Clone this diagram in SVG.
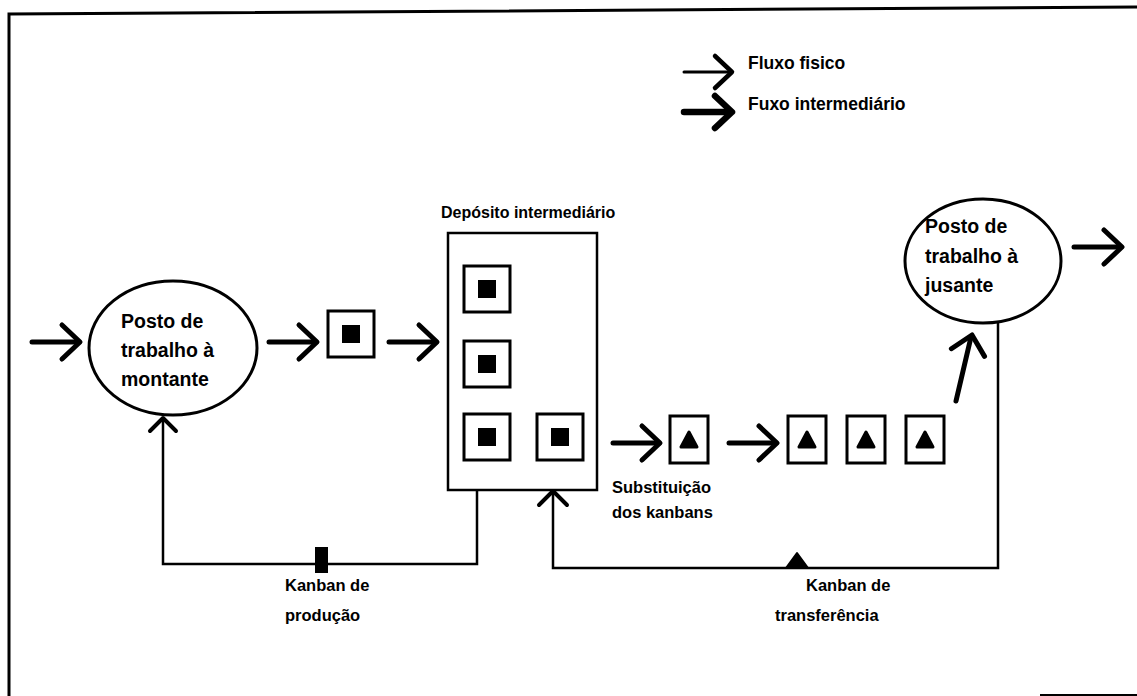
<svg xmlns="http://www.w3.org/2000/svg" width="1137" height="696" viewBox="0 0 1137 696">
  <style>
    .txt { font-family: "Liberation Sans", Arial, sans-serif; font-weight: bold; fill: #000; }
    .big { font-size: 19.5px; }
    .lbl { font-size: 16.5px; }
    .leg { font-size: 17.5px; }
    .shaft { stroke: #000; stroke-width: 5; stroke-linecap: round; fill: none; }
    .line { stroke: #000; stroke-width: 2.5; fill: none; stroke-linejoin: miter; }
    .box { fill: #fff; stroke: #000; stroke-width: 3; }
    .station { fill: #fff; stroke: #000; stroke-width: 3; }
  </style>
  <defs>
    <!-- open V arrowhead, tip at origin pointing along +x -->
    <path id="head" d="M-18,-17 L0,0 L-18,17" fill="none" stroke="#000" stroke-width="5" stroke-linecap="round" stroke-linejoin="round"/>
    <path id="headThin" d="M-17,-16 L0,0 L-17,16" fill="none" stroke="#000" stroke-width="4.5" stroke-linecap="round" stroke-linejoin="round"/>
    <path id="headThick" d="M-17,-16 L0,0 L-17,16" fill="none" stroke="#000" stroke-width="6.5" stroke-linecap="round" stroke-linejoin="round"/>
    <!-- container with square part -->
    <g id="sqBox">
      <rect x="0" y="0" width="46" height="46" class="box"/>
      <rect x="14" y="14" width="18" height="18" fill="#000"/>
    </g>
    <!-- container with triangular kanban -->
    <g id="triBox">
      <rect x="0" y="0" width="38" height="47" class="box"/>
      <path d="M19,16 L27,31 L11,31 Z" fill="#000" stroke="#000" stroke-width="3" stroke-linejoin="round"/>
    </g>
  </defs>

  <rect width="1137" height="696" fill="#fff"/>

  <!-- frame -->
  <g id="frame" stroke="#000" fill="none">
    <path d="M9,696 L9,14 L1137,7" stroke-width="3"/>
    <line x1="1040" y1="695" x2="1137" y2="695" stroke-width="2"/>
  </g>

  <!-- legend -->
  <g id="legend">
    <line x1="684" y1="72" x2="731" y2="72" stroke="#000" stroke-width="3" stroke-linecap="round"/>
    <use href="#headThin" transform="translate(732,72)"/>
    <text class="txt leg" x="748" y="69">Fluxo fisico</text>
    <line x1="684" y1="112" x2="730" y2="112" stroke="#000" stroke-width="6.5" stroke-linecap="round"/>
    <use href="#headThick" transform="translate(732,112)"/>
    <text class="txt leg" x="748" y="110">Fuxo intermediário</text>
  </g>

  <!-- connectors -->
  <g id="connectors">
    <!-- physical flow -->
    <line class="shaft" x1="32" y1="342" x2="79" y2="342"/>
    <use href="#head" transform="translate(80,342)"/>
    <line class="shaft" x1="269" y1="342" x2="316" y2="342"/>
    <use href="#head" transform="translate(317,342)"/>
    <line class="shaft" x1="389" y1="342" x2="436" y2="342"/>
    <use href="#head" transform="translate(437,342)"/>
    <line class="shaft" x1="613" y1="443" x2="659" y2="443"/>
    <use href="#head" transform="translate(660,443)"/>
    <line class="shaft" x1="729" y1="443" x2="776" y2="443"/>
    <use href="#head" transform="translate(777,443)"/>
    <line class="shaft" x1="956" y1="401" x2="971" y2="337"/>
    <use href="#head" transform="translate(972,335) rotate(-77)"/>
    <line class="shaft" x1="1074" y1="247" x2="1121" y2="247"/>
    <use href="#head" transform="translate(1122,247)"/>

    <!-- production kanban loop -->
    <path class="line" d="M477,490 L477,564 L163,564 L163,418"/>
    <path d="M150,431 L163,418 L176,431" fill="none" stroke="#000" stroke-width="4" stroke-linecap="round" stroke-linejoin="round"/>
    <rect x="315" y="547" width="13" height="26" fill="#000"/>

    <!-- transfer kanban loop -->
    <path class="line" d="M998,323 L998,568 L553,568 L553,491"/>
    <path d="M539,505 L553,491 L567,505" fill="none" stroke="#000" stroke-width="4" stroke-linecap="round" stroke-linejoin="round"/>
    <path d="M797,553 L808,568 L786,568 Z" fill="#000" stroke="#000" stroke-width="2" stroke-linejoin="round"/>
  </g>

  <!-- upstream work station -->
  <g id="upstream">
    <ellipse class="station" cx="173" cy="348" rx="84" ry="67"/>
    <text class="txt big" x="121" y="328">Posto de</text>
    <text class="txt big" x="121" y="357">trabalho à</text>
    <text class="txt big" x="121" y="386">montante</text>
  </g>

  <!-- container in transit -->
  <g id="transit-box">
    <use href="#sqBox" x="328" y="311"/>
  </g>

  <!-- intermediate storage -->
  <g id="storage">
    <text class="txt" font-size="16" x="441" y="218">Depósito intermediário</text>
    <rect x="448" y="233" width="149" height="257" fill="#fff" stroke="#000" stroke-width="2.5"/>
    <use href="#sqBox" x="464" y="266"/>
    <use href="#sqBox" x="464" y="341"/>
    <use href="#sqBox" x="464" y="414"/>
    <use href="#sqBox" x="537" y="414"/>
  </g>

  <!-- transfer kanban containers -->
  <g id="transfer-boxes">
    <use href="#triBox" x="670" y="416"/>
    <use href="#triBox" x="788" y="416"/>
    <use href="#triBox" x="847" y="416"/>
    <use href="#triBox" x="906" y="416"/>
  </g>

  <!-- downstream work station -->
  <g id="downstream">
    <ellipse class="station" cx="983" cy="261" rx="78" ry="62"/>
    <text class="txt big" x="925" y="233">Posto de</text>
    <text class="txt big" x="925" y="263">trabalho à</text>
    <text class="txt big" x="925" y="292">jusante</text>
  </g>

  <!-- labels -->
  <g id="labels">
    <text class="txt lbl" x="612" y="493">Substituição</text>
    <text class="txt lbl" x="612" y="518">dos kanbans</text>
    <text class="txt lbl" x="285" y="591">Kanban de</text>
    <text class="txt lbl" x="285" y="621">produção</text>
    <text class="txt lbl" x="806" y="591">Kanban de</text>
    <text class="txt lbl" x="775" y="621">transferência</text>
  </g>
</svg>
